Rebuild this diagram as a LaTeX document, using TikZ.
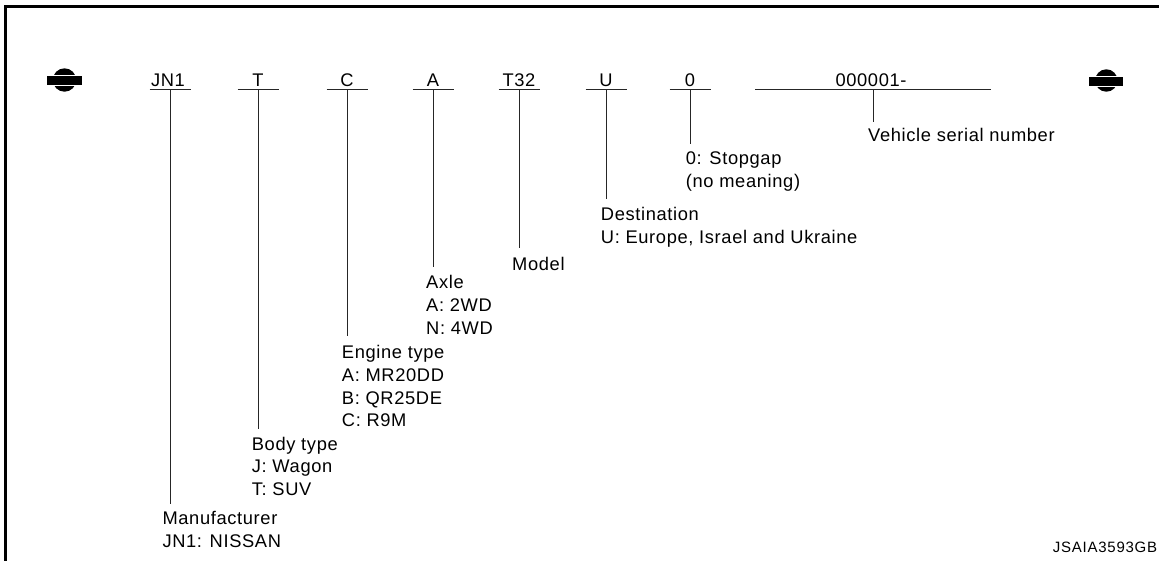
\documentclass[tikz,border=0pt]{standalone}
\usepackage{fontspec}
\setmainfont{Liberation Sans}[LetterSpace=3.5]
\newfontfamily\tagfont{Liberation Sans}[LetterSpace=5]
\begin{document}
\begin{tikzpicture}[x=1pt,y=-1pt,
  lbl/.style={anchor=north west, inner sep=0pt, align=left, font=\fontsize{18.3}{22.8}\selectfont},
  code/.style={anchor=base, inner sep=0pt, font=\fontsize{18.3}{22.8}\selectfont},
  stem/.style={draw=black!85, line width=1pt},
  frame/.style={draw=black, line width=3pt}]
\useasboundingbox (0,0) rectangle (1159,560);
\clip (0,0) rectangle (1159,560);
% frame
\draw[frame] (5.5,580) -- (5.5,6.5) -- (1180,6.5);
% logos
\fill (64.5,80) circle[radius=11.7];
\fill[white] (45.7,75) rectangle (83.3,86);
\fill (46.7,76) rectangle (82.3,85);
\fill (1106.3,80.5) circle[radius=11.2];
\fill[white] (1088.3,75.5) rectangle (1124.3,86.5);
\fill (1089.3,76.5) rectangle (1123.3,85.5);
% underline centres
\coordinate (uJN1) at (170,89);
\coordinate (uT) at (258,89);
\coordinate (uC) at (347,89);
\coordinate (uA) at (433,89);
\coordinate (uT32) at (519,89);
\coordinate (uU) at (606,89);
\coordinate (u0) at (690,89);
\coordinate (uSer) at (873,89);
% codes
\node[code] (tJN1) at (168,86) {JN1};
\node[code] (tT) at (258,86) {T};
\node[code] (tC) at (347,86) {C};
\node[code] (tA) at (433,86) {A};
\node[code] (tT32) at (519,86) {T32};
\node[code] (tU) at (606,86) {U};
\node[code] (t0) at (690,86) {0};
\node[code] (tSer) at (871,86) {000001-};
% underlines
\foreach \u in {uJN1,uT,uC,uA,uT32,uU,u0}
  \draw[stem] ([xshift=-20.5pt]\u) -- ([xshift=20.5pt]\u);
\draw[stem] ([xshift=-118pt]uSer) -- ([xshift=118pt]uSer);
% labels
\node[lbl] (man) at (162.3,511) {Manufacturer\\JN1: NISSAN};
\node[lbl] (body) at (251.7,436.7) {Body type\\J: Wagon\\T: SUV};
\node[lbl] (eng) at (341.7,345) {Engine type\\A: MR20DD\\B: QR25DE\\C: R9M};
\node[lbl] (axle) at (426,275) {Axle\\A: 2WD\\N: 4WD};
\node[lbl] (model) at (512,256.7) {Model};
\node[lbl] (dest) at (600.7,207.3) {Destination\\U: Europe, Israel and Ukraine};
\node[lbl] (stop) at (685.7,151.7) {0: Stopgap\\(no meaning)};
\node[lbl] (ser) at (868,128) {Vehicle serial number};
% stems
\draw[stem, shorten >=7.5pt] (uJN1) -- (uJN1 |- man.north);
\draw[stem, shorten >=8pt] (uT) -- (uT |- body.north);
\draw[stem, shorten >=9.5pt] (uC) -- (uC |- eng.north);
\draw[stem, shorten >=8.5pt] (uA) -- (uA |- axle.north);
\draw[stem, shorten >=8.5pt] (uT32) -- (uT32 |- model.north);
\draw[stem, shorten >=8pt] (uU) -- (uU |- dest.north);
\draw[stem, shorten >=7.5pt] (u0) -- (u0 |- stop.north);
\draw[stem, shorten >=6pt] (uSer) -- (uSer |- ser.north);
% tag
\node[anchor=base west, inner sep=0pt, font=\tagfont\fontsize{15}{18}\selectfont] (tag) at (1052.7,552.7) {JSAIA3593GB};
\end{tikzpicture}
\end{document}
